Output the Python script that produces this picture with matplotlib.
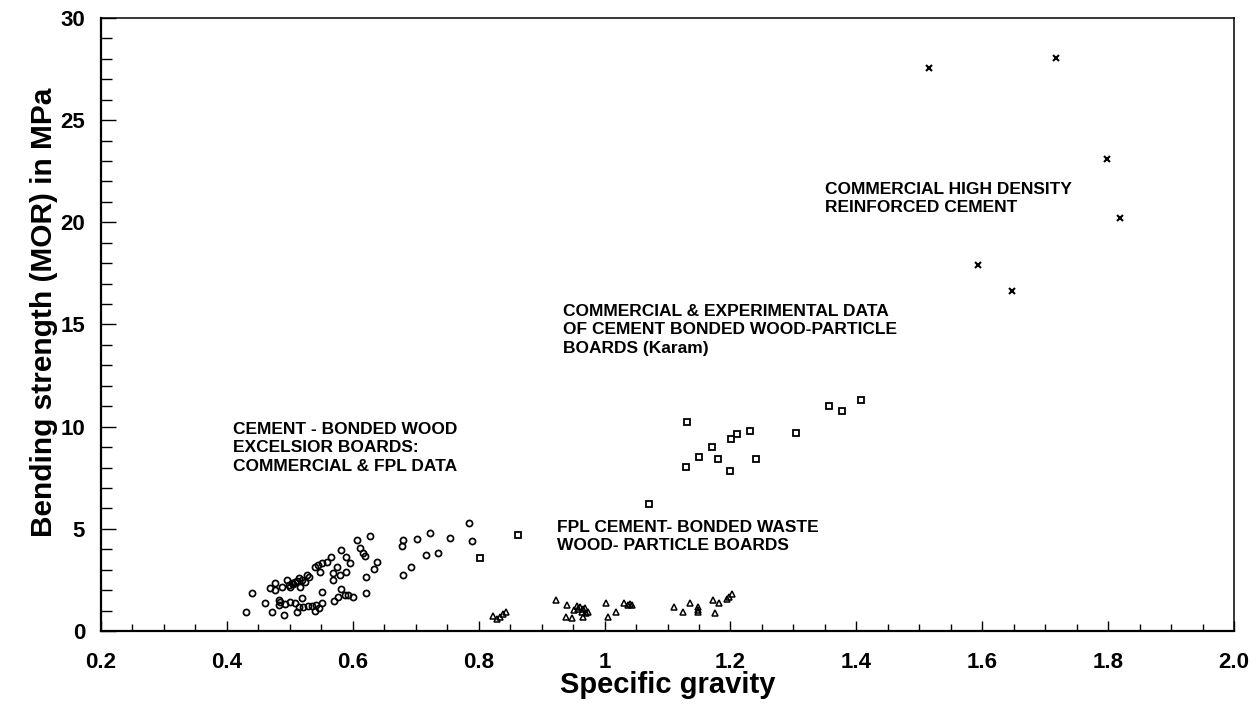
import matplotlib
matplotlib.use('Agg')
import matplotlib.pyplot as plt
from matplotlib.ticker import MultipleLocator

# cement-bonded wood excelsior boards (circles)
exc_sg = [0.430, 0.440, 0.461, 0.471, 0.468, 0.476, 0.476, 0.482, 0.482, 0.490,
          0.487, 0.495, 0.498, 0.503, 0.508, 0.514, 0.519, 0.524, 0.528, 0.516,
          0.500, 0.508, 0.511, 0.514, 0.520, 0.521, 0.529, 0.540, 0.542, 0.551,
          0.551, 0.540, 0.545, 0.548, 0.551, 0.559, 0.566, 0.582, 0.589, 0.595,
          0.575, 0.569, 0.568, 0.580, 0.589, 0.570, 0.577, 0.582, 0.588, 0.593,
          0.601, 0.606, 0.611, 0.616, 0.619, 0.627, 0.621, 0.621, 0.634, 0.638,
          0.679, 0.692, 0.678, 0.680, 0.702, 0.716, 0.722, 0.736, 0.755, 0.785,
          0.789, 0.505, 0.512, 0.531, 0.535, 0.546, 0.485, 0.500, 0.492]
exc_mor = [0.95, 1.84, 1.36, 0.95, 2.09, 2.33, 2.00, 1.52, 1.27, 0.78,
           2.17, 2.50, 2.25, 2.33, 2.41, 2.58, 2.50, 2.41, 2.74, 2.17,
           1.43, 1.36, 0.95, 1.19, 1.60, 1.19, 1.24, 0.98, 1.27, 1.36,
           1.89, 3.15, 3.23, 2.90, 3.31, 3.39, 3.64, 3.96, 3.64, 3.34,
           3.15, 2.82, 2.50, 2.74, 2.90, 1.48, 1.68, 2.04, 1.76, 1.76,
           1.65, 4.45, 4.05, 3.80, 3.67, 4.65, 2.63, 1.84, 3.02, 3.39,
           2.74, 3.12, 4.18, 4.45, 4.50, 3.72, 4.78, 3.83, 4.54, 5.30,
           4.39, 2.30, 2.45, 2.62, 1.20, 1.12, 1.40, 2.15, 1.30]

# FPL waste wood-particle boards (triangles)
fpl_sg = [0.823, 0.829, 0.834, 0.838, 0.843, 0.923, 0.941, 0.939, 0.948, 0.956,
          0.961, 0.966, 0.971, 0.974, 0.966, 1.003, 1.006, 1.018, 1.031, 1.038,
          1.043, 1.110, 1.124, 1.136, 1.149, 1.149, 1.173, 1.176, 1.182, 1.194,
          1.198, 1.202, 0.958, 0.964, 0.952, 0.969, 1.040, 1.149]
fpl_mor = [0.73, 0.57, 0.70, 0.82, 0.95, 1.52, 1.27, 0.70, 0.62, 1.22,
           1.19, 1.06, 0.87, 0.95, 0.70, 1.36, 0.70, 0.95, 1.36, 1.27,
           1.27, 1.16, 0.95, 1.36, 1.16, 0.95, 1.52, 0.90, 1.36, 1.55,
           1.68, 1.81, 1.10, 0.95, 1.05, 1.15, 1.30, 1.05]

# Karam particle boards (squares)
karam_sg = [0.802, 0.863, 1.071, 1.131, 1.129, 1.150, 1.170, 1.180, 1.201,
            1.211, 1.231, 1.200, 1.240, 1.304, 1.357, 1.378, 1.407]
karam_mor = [3.56, 4.70, 6.22, 10.24, 8.01, 8.53, 8.99, 8.40, 9.40,
             9.63, 9.80, 7.83, 8.40, 9.71, 11.01, 10.78, 11.31]

# high density reinforced cement (crosses)
hd_sg = [1.516, 1.717, 1.799, 1.819, 1.594, 1.647]
hd_mor = [27.56, 28.03, 23.09, 20.20, 17.90, 16.66]

xticks = [0.2, 0.4, 0.6, 0.8, 1.0, 1.2, 1.4, 1.6, 1.8, 2.0]
xtick_labels = ['0.2', '0.4', '0.6', '0.8', '1', '1.2', '1.4', '1.6', '1.8', '2.0']
yticks = [0, 5, 10, 15, 20, 25, 30]

plt.rcParams['font.family'] = ['Liberation Sans', 'DejaVu Sans']
plt.rcParams['font.weight'] = 'bold'

fig = plt.figure(figsize=(12.5, 7.16), dpi=100)
ax = fig.add_axes([0.0808, 0.1187, 0.9064, 0.8562])

ax.plot(exc_sg, exc_mor, 'o', mfc='none', mec='black', ms=4.4, mew=1.25)
ax.plot(fpl_sg, fpl_mor, '^', mfc='none', mec='black', ms=4.6, mew=1.1)
ax.plot(karam_sg, karam_mor, 's', mfc='none', mec='black', ms=3.8, mew=1.3)
ax.plot(hd_sg, hd_mor, 'x', color='black', ms=4.5, mew=1.5)

ax.set_xlim(0.2, 2.0)
ax.set_ylim(0, 30)
ax.set_xticks(xticks, xtick_labels)
ax.set_yticks(yticks)
ax.xaxis.set_minor_locator(MultipleLocator(0.05))
ax.yaxis.set_minor_locator(MultipleLocator(1))

ax.tick_params(axis='x', which='major', direction='in', length=7, width=1.0,
               labelsize=16, pad=15, top=False)
ax.tick_params(axis='x', which='minor', direction='in', length=5, width=1.0, top=False)
ax.tick_params(axis='y', which='major', direction='in', length=11, width=1.0,
               labelsize=16, pad=11.5, right=False)
ax.tick_params(axis='y', which='minor', direction='in', length=8, width=1.0, right=False)

for side in ['bottom', 'left']:
    ax.spines[side].set_linewidth(1.6)
for side in ['top', 'right']:
    ax.spines[side].set_linewidth(1.1)

ax.set_xlabel('Specific gravity', fontsize=21, fontweight='bold')
ax.xaxis.set_label_coords(0.5, -0.066)
ax.set_ylabel('Bending strength (MOR) in MPa', fontsize=21.5, fontweight='bold')
ax.yaxis.set_label_coords(-0.038, 0.52)

# group labels
txt = dict(fontsize=12.5, fontweight='bold', va='top', ha='left', linespacing=1.28)
ax.text(0.410, 10.23, 'CEMENT - BONDED WOOD\nEXCELSIOR BOARDS:\nCOMMERCIAL & FPL DATA', **txt)
ax.text(0.934, 16.0, 'COMMERCIAL & EXPERIMENTAL DATA\nOF CEMENT BONDED WOOD-PARTICLE\nBOARDS (Karam)', **txt)
ax.text(0.925, 5.43, 'FPL CEMENT- BONDED WASTE\nWOOD- PARTICLE BOARDS', **txt)
ax.text(1.350, 21.98, 'COMMERCIAL HIGH DENSITY\nREINFORCED CEMENT', **txt)

fig.savefig('out.png', dpi=100)
